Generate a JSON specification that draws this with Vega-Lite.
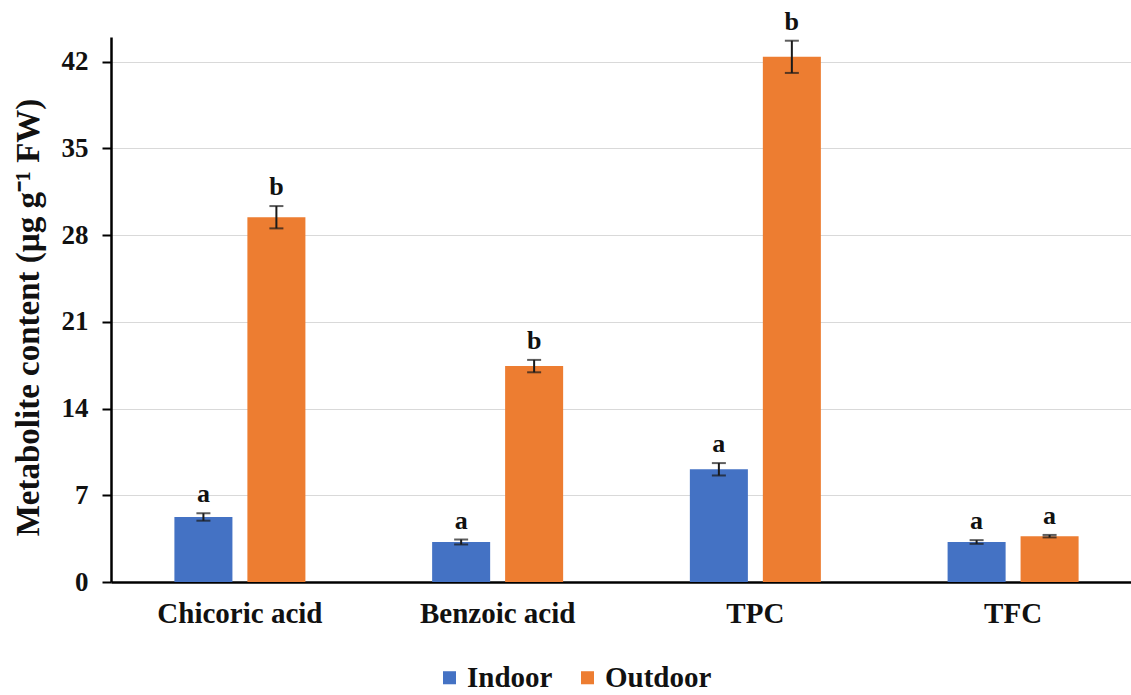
{
  "$schema": "https://vega.github.io/schema/vega-lite/v6.json",
  "autosize": "none",
  "width": 1031,
  "height": 545,
  "padding": {"left": 111, "top": 37, "right": 0, "bottom": 113},
  "background": "white",
  "config": {
    "font": "Liberation Serif",
    "view": {"stroke": null},
    "axis": {"labelFont": "Liberation Serif", "titleFont": "Liberation Serif", "labelFontWeight": "bold", "titleFontWeight": "bold", "labelColor": "#111", "titleColor": "#111"},
    "legend": {"labelFont": "Liberation Serif", "labelFontWeight": "bold"}
  },
  "data": {
    "values": [
      {"compound": "Chicoric acid", "condition": "Indoor", "mean": 5.25, "lo": 4.95, "hi": 5.55, "letter": "a"},
      {"compound": "Chicoric acid", "condition": "Outdoor", "mean": 29.45, "lo": 28.55, "hi": 30.35, "letter": "b"},
      {"compound": "Benzoic acid", "condition": "Indoor", "mean": 3.23, "lo": 3.03, "hi": 3.43, "letter": "a"},
      {"compound": "Benzoic acid", "condition": "Outdoor", "mean": 17.43, "lo": 16.93, "hi": 17.93, "letter": "b"},
      {"compound": "TPC", "condition": "Indoor", "mean": 9.1, "lo": 8.6, "hi": 9.6, "letter": "a"},
      {"compound": "TPC", "condition": "Outdoor", "mean": 42.4, "lo": 41.1, "hi": 43.7, "letter": "b"},
      {"compound": "TFC", "condition": "Indoor", "mean": 3.23, "lo": 3.08, "hi": 3.38, "letter": "a"},
      {"compound": "TFC", "condition": "Outdoor", "mean": 3.7, "lo": 3.6, "hi": 3.8, "letter": "a"}
    ]
  },
  "encoding": {
    "x": {
      "field": "compound", "type": "nominal",
      "sort": ["Chicoric acid", "Benzoic acid", "TPC", "TFC"],
      "scale": {"paddingInner": 0.4917, "paddingOuter": 0.246},
      "axis": {"title": null, "labelAngle": 0, "labelFontSize": 29, "labelPadding": 17, "ticks": false, "domainColor": "#000", "domainWidth": 2.5, "grid": false}
    },
    "xOffset": {
      "field": "condition", "type": "nominal",
      "sort": ["Indoor", "Outdoor"],
      "scale": {"paddingInner": 0.205, "paddingOuter": 0}
    }
  },
  "layer": [
    {
      "mark": {"type": "bar"},
      "encoding": {
        "y": {
          "field": "mean", "type": "quantitative",
          "scale": {"domain": [0, 44], "nice": false},
          "axis": {
            "title": "Metabolite content (µg g⁻¹ FW)",
            "values": [0, 7, 14, 21, 28, 35, 42],
            "labelFontSize": 27, "labelPadding": 14,
            "tickSize": 9, "tickColor": "#000", "tickWidth": 2,
            "domainColor": "#000", "domainWidth": 2.5,
            "gridColor": "#d9d9d9", "gridWidth": 1.2,
            "titleFontSize": 33, "titleAngle": -90, "titleX": -83, "titleY": 280,
            "titleAlign": "center", "titleBaseline": "middle"
          }
        },
        "color": {
          "field": "condition", "type": "nominal",
          "sort": ["Indoor", "Outdoor"],
          "scale": {"domain": ["Indoor", "Outdoor"], "range": ["#4472C4", "#ED7D31"]},
          "legend": {
            "title": null, "orient": "none", "direction": "horizontal",
            "legendX": 324, "legendY": 626,
            "symbolType": "square", "symbolSize": 170, "symbolStrokeWidth": 0,
            "labelFontSize": 29, "labelColor": "#111", "columnPadding": 20, "labelOffset": 3
          }
        }
      }
    },
    {
      "mark": {"type": "rule", "color": "#1a1a1a", "strokeWidth": 2},
      "encoding": {
        "y": {"field": "lo", "type": "quantitative"},
        "y2": {"field": "hi"}
      }
    },
    {
      "mark": {"type": "tick", "color": "#1a1a1a", "thickness": 2, "size": 14},
      "encoding": {"y": {"field": "lo", "type": "quantitative"}}
    },
    {
      "mark": {"type": "tick", "color": "#1a1a1a", "thickness": 2, "size": 14},
      "encoding": {"y": {"field": "hi", "type": "quantitative"}}
    },
    {
      "mark": {"type": "text", "fontSize": 26, "fontWeight": "bold", "font": "Liberation Serif", "baseline": "bottom", "dy": -6, "color": "#111"},
      "encoding": {
        "y": {"field": "hi", "type": "quantitative"},
        "text": {"field": "letter"}
      }
    }
  ]
}
